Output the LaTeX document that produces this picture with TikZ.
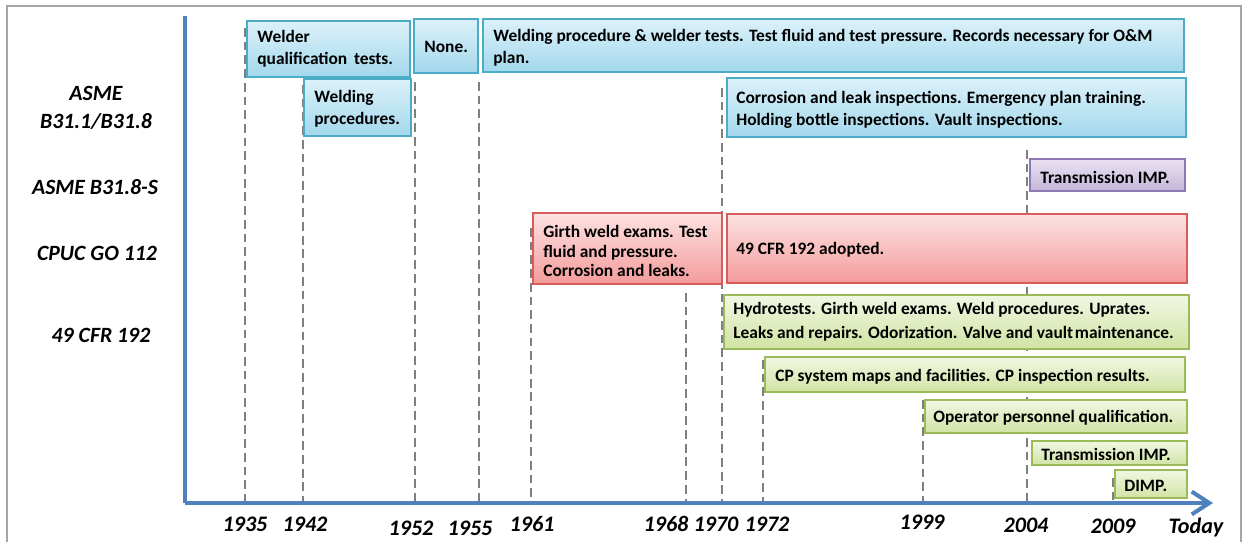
\documentclass[tikz,border=0pt]{standalone}
\usepackage{fontspec}
\setmainfont{Carlito}
\usetikzlibrary{arrows.meta}
\definecolor{axisblue}{HTML}{4F81BD}
\definecolor{framegray}{HTML}{A6A6A6}
\definecolor{dashgray}{HTML}{7F7F7F}
\definecolor{blueedge}{HTML}{4BACC6}
\definecolor{bluetop}{HTML}{DCF1FA}
\definecolor{bluebot}{HTML}{A3D8EC}
\definecolor{rededge}{HTML}{D65D5B}
\definecolor{redtop}{HTML}{FDE2E2}
\definecolor{redbot}{HTML}{F49B9B}
\definecolor{purpleedge}{HTML}{8E78B5}
\definecolor{purpletop}{HTML}{EAE2F2}
\definecolor{purplebot}{HTML}{C4B6DA}
\definecolor{greenedge}{HTML}{9BBB59}
\definecolor{greentop}{HTML}{F1F7E3}
\definecolor{greenbot}{HTML}{D1E3A4}
\tikzset{
  yearline/.style={dashgray, line width=1.6pt, dash pattern=on 5pt off 2.8pt},
  box/.style={line width=0.8pt},
  bluebox/.style={box, draw=blueedge, top color=bluetop, bottom color=bluebot},
  redbox/.style={box, draw=rededge, top color=redtop, bottom color=redbot},
  purplebox/.style={box, draw=purpleedge, top color=purpletop, bottom color=purplebot},
  greenbox/.style={box, draw=greenedge, top color=greentop, bottom color=greenbot},
  boxtext/.style={anchor=west, align=left, inner sep=0pt, font=\bfseries\fontsize{9.9}{12.5}\selectfont},
  stdlabel/.style={align=center, font=\bfseries\itshape\fontsize{12.4}{15}\selectfont},
  yearlabel/.style={font=\bfseries\itshape\fontsize{12.6}{15}\selectfont},
}
\begin{document}
\begin{tikzpicture}[x=0.02cm, y=-0.02cm]
    \useasboundingbox (0,0) rectangle (1245,542);
    % frame
    \draw[framegray, line width=1.1pt] (7,542) -- (7,6) -- (1241,6) -- (1241,542);
    % year lines and labels
    \foreach \x/\ytop/\lx/\ly/\yr in {245/28/245/524/1935, 303/85/305/524/1942, 415/82/411/528/1952,
        479/82/470/528/1955, 531/228/532/524/1961, 686/293/666/524/1968, 722/88/716/524/1970,
        763/360/767/524/1972, 923/400/922/522/1999, 1027/150/1026/525/2004, 1113/478/1113/526/2009}{
        \draw[yearline] (\x,\ytop) -- (\x,503);
        \node[yearlabel] (y\yr) at (\lx,\ly) {\yr};
    }
    \node[yearlabel] (today) at (1196,527) {Today};
    % axes
    \coordinate (origin) at (185,503);
    \coordinate (ytop) at (185,16);
    \coordinate (xend) at (1213,503);
    \draw[axisblue, line width=2.3pt] (ytop) -- (origin);
    \draw[axisblue, line width=2.3pt, -{Straight Barb[length=10pt,width=13pt]}] (origin) -- (xend);
    % standards
    \node[stdlabel] (asme) at (96,108) {ASME\\[1pt]B31.1/B31.8};
    \node[stdlabel] (asmes) at (95,187) {ASME B31.8-S};
    \node[stdlabel] (cpuc) at (97,253) {CPUC GO 112};
    \node[stdlabel] (cfr) at (101,335) {49 CFR 192};
    % ASME B31.1/B31.8
    \draw[bluebox] (247,21) rectangle (410,77);
    \node[boxtext] (welder) at (257,49) {Welder\\qualification\, tests.};
    \draw[bluebox] (414,19) rectangle (478,73);
    \node[boxtext] (none) at (424,47) {None.};
    \draw[bluebox] (483,19) rectangle (1184,72);
    \node[boxtext] (weldtests) at (493,48) {Welding procedure \& welder tests. Test fluid and test pressure. Records necessary for O\&M\\plan.};
    \draw[bluebox] (304,79) rectangle (411,136);
    \node[boxtext] (weldproc) at (314,109) {Welding\\procedures.};
    \draw[bluebox] (727,78) rectangle (1186,137);
    \node[boxtext] (corrosion) at (736,110) {Corrosion and leak inspections. Emergency plan training.\\Holding bottle inspections. Vault inspections.};
    % ASME B31.8-S
    \draw[purplebox] (1030,159) rectangle (1185,191);
    \node[boxtext] (timpa) at (1040,177) {Transmission IMP.};
    % CPUC GO 112
    \draw[redbox] (533,213) rectangle (722,284);
    \node[boxtext, font=\bfseries\fontsize{9.9}{11}\selectfont] (girth) at (543,251) {Girth weld exams. Test\\fluid and pressure.\\Corrosion and leaks.};
    \draw[redbox] (727,214) rectangle (1187,283);
    \node[boxtext] (adopted) at (736,250) {49 CFR 192 adopted.};
    % 49 CFR 192
    \draw[greenbox] (724,295) rectangle (1189,349);
    \node[boxtext, font=\bfseries\fontsize{9.9}{13.5}\selectfont] (hydro) at (733,322) {Hydrotests. Girth weld exams. Weld procedures. Uprates.\\Leaks and repairs. Odorization. Valve and vault\kern1pt maintenance.};
    \draw[greenbox] (765,357) rectangle (1185,392);
    \node[boxtext] (cp) at (775,377) {CP system maps and facilities. CP inspection results.};
    \draw[greenbox] (925,400) rectangle (1187,433);
    \node[boxtext] (opq) at (933,418) {Operator personnel qualification.};
    \draw[greenbox] (1032,441) rectangle (1187,465);
    \node[boxtext] (timpb) at (1041,454) {Transmission IMP.};
    \draw[greenbox] (1115,470) rectangle (1187,498);
    \node[boxtext] (dimp) at (1124,486) {DIMP.};
\end{tikzpicture}
\end{document}
